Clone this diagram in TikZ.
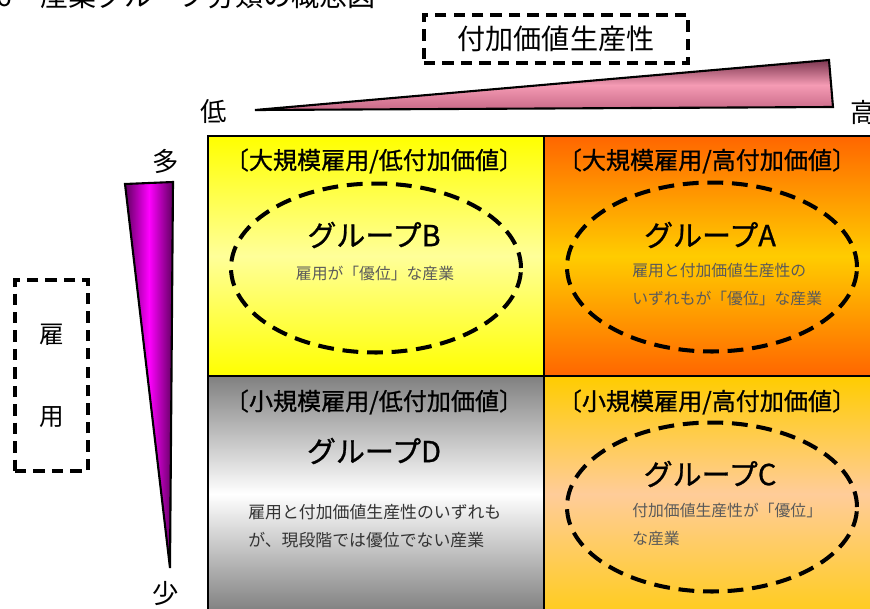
\documentclass[tikz,border=0pt]{standalone}
\usepackage{fontspec}
\setmainfont{Noto Sans CJK JP}
\newfontfamily\heavyfont[FakeBold=0.9]{Noto Sans CJK JP}
\usetikzlibrary{shapes.geometric}
\definecolor{wedgedark}{RGB}{125,55,80}
\definecolor{wedgepink}{RGB}{245,155,180}
\definecolor{wedgelow}{RGB}{200,105,135}
\definecolor{cellorange}{RGB}{255,102,0}
\definecolor{cellgold}{RGB}{255,204,0}
\definecolor{cellpeach}{RGB}{255,204,153}
\definecolor{cellgray}{RGB}{128,128,128}
\definecolor{desc}{RGB}{90,90,90}

\begin{document}
\begin{tikzpicture}[x=0.02cm,y=-0.02cm,
    grid/.style={draw=black,line width=1.2pt},
    oval/.style={ellipse,draw=black,line width=2.3pt,dash pattern=on 9pt off 5pt,
                 minimum width=5.8cm,minimum height=3.38cm,inner sep=0},
    tagbox/.style={draw=black,line width=1.8pt,dash pattern=on 6.5pt off 4pt,inner sep=0}]
\useasboundingbox (0,0) rectangle (870,609);

% title (cut off at the top)
\node[anchor=base west,inner sep=0,font=\fontsize{16}{16}\selectfont] (title) at (-4,6) {6　産業グループ分類の概念図};

% cells
\shade[top color=yellow,bottom color=yellow,middle color=yellow!40] (208,136) rectangle (544,376);
\shade[top color=cellorange,bottom color=cellorange,middle color=cellgold] (544,136) rectangle (880,376);
\shade[top color=cellgray,bottom color=cellgray,middle color=white] (208,376) rectangle (544,612);
\shade[top color=cellgold,bottom color=cellgold!80!cellpeach,middle color=cellpeach] (544,376) rectangle (880,612);
\draw[grid] (208,620) |- (880,136);
\draw[grid] (544,136) -- (544,620);
\draw[grid] (208,376) -- (880,376);

% axes
\shade[draw=black,line width=1.2pt,top color=wedgedark,bottom color=wedgelow,middle color=wedgepink]
    (255,110) -- (829,60) -- (833,107) -- cycle;
\shade[draw=black,line width=1.2pt,left color=violet!75!black,right color=violet!75!black,middle color=magenta]
    (125,184) -- (173,182) -- (170,568) -- cycle;

\begin{scope}[every node/.style={inner sep=0,font=\fontsize{15}{15}\selectfont}]
    \node (lo) at (214,112) {低};
    \node (hi) at (864,112) {高};
    \node (many) at (166,161) {多};
    \node (few) at (166,594) {少};
\end{scope}

\node[tagbox,minimum width=5.28cm,minimum height=0.96cm,font=\fontsize{16}{16}\selectfont] (gva) at (556,39) {付加価値生産性};
\node[tagbox,minimum width=1.46cm,minimum height=3.82cm,align=center,font=\fontsize{14}{46.5}\selectfont] (emp) at (51.5,375.5) {雇\\用};

% ovals
\node[oval] (ovB) at (376,268) {};
\node[oval] (ovA) at (712,267) {};
\node[oval] (ovC) at (712,507) {};

\begin{scope}[every node/.style={inner sep=0,font=\heavyfont\fontsize{13.7}{13.7}\selectfont}]
    \node (hdB) at (374,161) {〔大規模雇用/低付加価値〕};
    \node (hdA) at (707,161) {〔大規模雇用/高付加価値〕};
    \node (hdD) at (374,402) {〔小規模雇用/低付加価値〕};
    \node (hdC) at (707,402) {〔小規模雇用/高付加価値〕};
\end{scope}

\begin{scope}[every node/.style={inner sep=0,font=\heavyfont\fontsize{16.5}{16.5}\selectfont}]
    \node (grpB) at (374,235) {グループB};
    \node (grpA) at (710,235) {グループA};
    \node (grpD) at (374,451) {グループD};
    \node (grpC) at (710,474) {グループC};
\end{scope}

\begin{scope}[every node/.style={inner sep=0,text=desc,align=left,font=\fontsize{9}{15.9}\selectfont}]
    \node (txtB) at (375,273) {雇用が「優位」な産業};
    \node[anchor=north west] (txtA) at (632,263) {雇用と付加価値生産性の\\いずれもが「優位」な産業};
    \node[anchor=north west,text=black!80,font=\fontsize{9.6}{15.9}\selectfont] (txtD) at (248,504) {雇用と付加価値生産性のいずれも\\が、現段階では優位でない産業};
    \node[anchor=north west] (txtC) at (632,503) {付加価値生産性が「優位」\\な産業};
\end{scope}
\end{tikzpicture}
\end{document}
